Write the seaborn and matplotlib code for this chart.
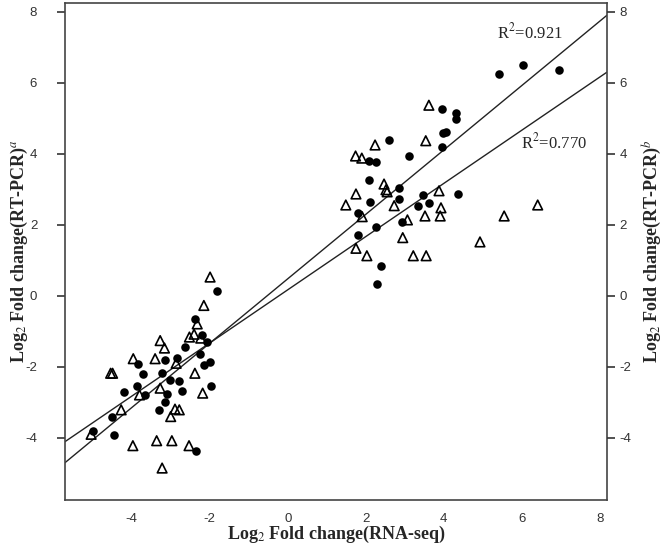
import numpy as np
import pandas as pd
import matplotlib.pyplot as plt
import seaborn as sns

# RT-PCR (a) vs RNA-seq - filled circles
circ_x = [5.43, 6.04, 6.96, 3.95, 4.32, 4.32, 3.99, 4.05, 3.96, 4.37, 2.60, 2.08, 2.26, 3.11,
          2.09, 2.86, 2.11, 2.85, 3.46, 3.63, 3.35, 1.81, 2.94, 2.26, 1.81, 2.39, 2.28,
          -1.80, -2.38, -2.21, -2.08, -2.63, -3.85, -3.15, -2.83, -2.25, -2.15, -1.99, -3.70,
          -3.23, -3.02, -2.79, -3.87, -1.97, -3.09, -4.19, -3.66, -2.72, -3.15, -3.29, -4.50,
          -4.98, -4.45, -2.36]
circ_y = [6.24, 6.49, 6.37, 5.26, 5.16, 4.98, 4.58, 4.61, 4.18, 2.86, 4.39, 3.81, 3.76, 3.94,
          3.27, 3.03, 2.64, 2.72, 2.83, 2.61, 2.54, 2.33, 2.09, 1.93, 1.72, 0.85, 0.34,
          0.14, -0.66, -1.10, -1.31, -1.45, -1.92, -1.80, -1.74, -1.64, -1.96, -1.87, -2.21,
          -2.18, -2.37, -2.39, -2.53, -2.53, -2.77, -2.72, -2.79, -2.68, -2.98, -3.21, -3.40,
          -3.80, -3.92, -4.37]

# RT-PCR (b) vs RNA-seq - open triangles
tri_x = [3.62, 2.24, 3.54, 1.74, 1.90, 2.47, 2.52, 2.55, 1.75, 3.88, 1.49, 2.73, 3.93, 3.91,
         3.52, 1.91, 3.07, 2.95, 1.75, 2.03, 3.22, 3.55, 4.93, 5.55, 6.41,
         -1.99, -2.15, -2.32, -2.52, -2.40, -2.23, -3.27, -3.16, -3.96, -3.40, -2.86, -4.54,
         -4.49, -2.38, -3.27, -3.80, -2.18, -2.89, -2.78, -3.00, -4.27, -5.04, -3.97, -3.36,
         -2.97, -2.53, -3.22]
tri_y = [5.37, 4.25, 4.37, 3.94, 3.88, 3.15, 2.99, 2.93, 2.87, 2.96, 2.56, 2.54, 2.48, 2.25,
         2.25, 2.23, 2.14, 1.64, 1.34, 1.13, 1.13, 1.13, 1.52, 2.25, 2.56,
         0.53, -0.27, -0.79, -1.16, -1.08, -1.19, -1.26, -1.47, -1.77, -1.77, -1.90, -2.18,
         -2.18, -2.18, -2.60, -2.79, -2.74, -3.19, -3.21, -3.40, -3.21, -3.90, -4.22, -4.08,
         -4.08, -4.22, -4.85]

# fitted lines (slope, intercept) and R^2 labels
fit_slope = [0.907, 0.749]
fit_icpt = [0.48, 0.17]
r2_labels = ['R$^2$=0.921', 'R$^2$=0.770']
r2_pos = [(5.37, 7.41), (5.98, 4.31)]

xticks = [-4, -2, 0, 2, 4, 6, 8]
yticks = [-4, -2, 0, 2, 4, 6, 8]
xlim = (-5.71, 8.18)
ylim = (-5.75, 8.25)

sns.set_style('white')
plt.rcParams['mathtext.fontset'] = 'stix'
fig = plt.figure(figsize=(6.66, 5.52), dpi=100)
ax = fig.add_axes([0.0976, 0.0942, 0.8134, 0.9004])

df_c = pd.DataFrame({'x': circ_x, 'y': circ_y})
df_t = pd.DataFrame({'x': tri_x, 'y': tri_y})

# regression lines
xs = np.array(xlim)
for s, b in zip(fit_slope, fit_icpt):
    sns.lineplot(x=xs, y=s * xs + b, ax=ax, color='#222222', linewidth=1.0)

sns.scatterplot(data=df_t, x='x', y='y', ax=ax, marker='^', s=48,
                facecolors='none', edgecolor='black', linewidth=1.2, zorder=3)
sns.scatterplot(data=df_c, x='x', y='y', ax=ax, marker='o', s=38,
                color='black', edgecolor='black', linewidth=0, zorder=4)

for lab, (tx, ty) in zip(r2_labels, r2_pos):
    ax.text(tx, ty, lab, fontsize=12, family='Liberation Serif', va='center', ha='left')

ax.set_xlim(xlim)
ax.set_ylim(ylim)
ax.set_xticks(xticks)
ax.set_yticks(yticks)

tick_font = dict(family='Liberation Sans', size=9.5, color='#333333')
ax.set_xticklabels([str(t) for t in xticks], **tick_font)
ax.set_yticklabels([str(t) for t in yticks], **tick_font)
ax.tick_params(axis='x', direction='out', length=6, width=1.2, color='#333333', pad=3)
ax.tick_params(axis='y', direction='out', length=6, width=1.2, color='#333333', pad=14)
for sp in ax.spines.values():
    sp.set_color('#444444')
    sp.set_linewidth(1.2)

lab_font = dict(family='Liberation Serif', size=13, weight='bold')
ax.set_xlabel('Log$_2$ Fold change(RNA-seq)', **lab_font)
ax.set_ylabel('Log$_2$ Fold change(RT-PCR)$^a$', **lab_font)
ax.xaxis.set_label_coords(0.5, -0.048)
ax.yaxis.set_label_coords(-0.064, 0.5)

ax2 = ax.twinx()
ax2.set_ylim(ylim)
ax2.set_yticks(yticks)
ax2.set_yticklabels([str(t) for t in yticks], **tick_font)
ax2.tick_params(axis='y', direction='out', length=6, width=1.2, color='#333333', pad=3)
for sp in ax2.spines.values():
    sp.set_visible(False)
ax2.set_ylabel('Log$_2$ Fold change(RT-PCR)$^b$', **lab_font)
ax2.yaxis.set_label_coords(1.062, 0.5)

fig.savefig('out.png', dpi=100)
